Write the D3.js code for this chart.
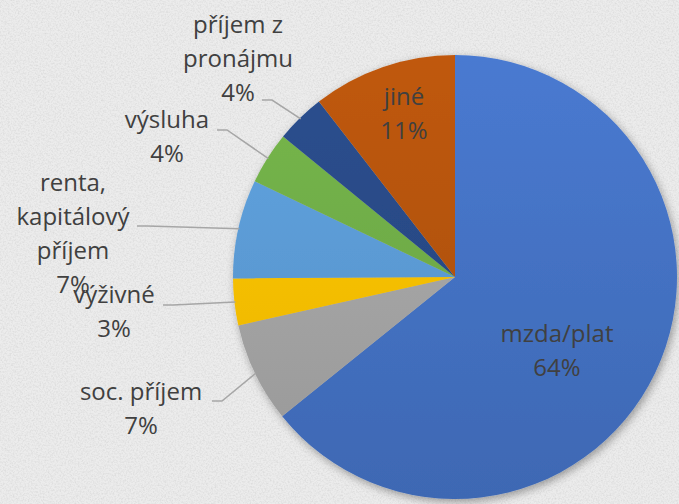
<!DOCTYPE html>
<html>
<head>
<meta charset="utf-8">
<script src="https://cdn.jsdelivr.net/npm/d3@7"></script>
<style>
  html, body { margin: 0; padding: 0; background: #ececec; overflow: hidden; }
</style>
</head>
<body>
<svg id="chart" width="679" height="504"></svg>
<script>
// share of household income (percent)
var categories = ['mzda/plat', 'soc. příjem', 'výživné', 'renta,\nkapitálový\npříjem', 'výsluha', 'příjem z\npronájmu', 'jiné'];
var values = [64.2, 7.3, 3.4, 7.2, 3.8, 3.6, 10.5];
var colors = ['#4472c4', '#a5a5a5', '#ffc000', '#5b9bd5', '#70ad47', '#284a86', '#b4530f'];

// hand placed labels (relative to pie centre), like in the original sheet
var labelLayout = [
  { x: 102, y: 65 },
  { x: -314, y: 123, lead: [-243, 124] },
  { x: -341, y: 26, lead: [-292, 28] },
  { x: -382, y: -86, lead: [-318, -51] },
  { x: -288, y: -149, lead: [-238, -147] },
  { x: -217, y: -244, lead: [-193, -177] },
  { x: -51, y: -172 }
];

var svg = d3.select('#chart');
var width = +svg.attr('width');
var height = +svg.attr('height');
var centerX = 455;
var centerY = 277;
var radius = 222;
var lineHeight = 34;

var data = categories.map(function(c, i) {
  return { name: c, value: values[i], color: colors[i], layout: labelLayout[i] };
});
var total = d3.sum(values);

var defs = svg.append('defs');

var paper = defs.append('filter').attr('id', 'paper')
  .attr('x', 0).attr('y', 0).attr('width', '100%').attr('height', '100%');
paper.append('feTurbulence')
  .attr('type', 'fractalNoise')
  .attr('baseFrequency', 0.6)
  .attr('numOctaves', 3)
  .attr('seed', 7);
paper.append('feColorMatrix')
  .attr('type', 'matrix')
  .attr('values', '0 0 0 0 0.5  0 0 0 0 0.5  0 0 0 0 0.5  1.4 0 0 0 -0.55');

var shadow = defs.append('filter').attr('id', 'shadow')
  .attr('x', '-10%').attr('y', '-10%').attr('width', '125%').attr('height', '125%');
shadow.append('feDropShadow')
  .attr('dx', 2).attr('dy', 3)
  .attr('stdDeviation', 4)
  .attr('flood-color', '#000')
  .attr('flood-opacity', 0.35);

// vertical shading of each slice, as in the office style
data.forEach(function(d, i) {
  var g = defs.append('linearGradient')
    .attr('id', 'grad-' + i)
    .attr('gradientUnits', 'userSpaceOnUse')
    .attr('x1', 0).attr('x2', 0)
    .attr('y1', -radius).attr('y2', radius);
  g.append('stop').attr('offset', 0).attr('stop-color', d3.rgb(d.color).brighter(0.18));
  g.append('stop').attr('offset', 1).attr('stop-color', d3.rgb(d.color).darker(0.25));
});

svg.append('rect')
  .attr('width', width)
  .attr('height', height)
  .style('fill', '#ececec');

svg.append('rect')
  .attr('width', width)
  .attr('height', height)
  .attr('filter', 'url(#paper)')
  .style('opacity', 0.5);

var pie = d3.pie()
  .value(function(d) { return d.value; })
  .sort(null);

var arc = d3.arc().innerRadius(0).outerRadius(radius);
var edge = d3.arc().innerRadius(radius - 1).outerRadius(radius - 1);

var arcs = pie(data);

var chart = svg.append('g')
  .attr('transform', 'translate(' + centerX + ',' + centerY + ')');

chart.append('g')
  .attr('filter', 'url(#shadow)')
  .selectAll('.slice')
  .data(arcs)
  .enter().append('path')
  .attr('class', 'slice')
  .attr('d', arc)
  .style('fill', function(d, i) { return 'url(#grad-' + i + ')'; });

chart.selectAll('.leader')
  .data(arcs.filter(function(d) { return d.data.layout.lead; }))
  .enter().append('path')
  .attr('class', 'leader')
  .attr('d', function(d) {
    var s = d.data.layout.lead;
    var p = edge.centroid(d);
    return d3.line()([s, [s[0] + 10, s[1]], p]);
  })
  .style('fill', 'none')
  .style('stroke', '#a6a6a6')
  .style('stroke-width', 1.5);

var labels = chart.selectAll('.label')
  .data(arcs)
  .enter().append('text')
  .attr('class', 'label')
  .style('font-family', '"Open Sans", sans-serif')
  .style('font-size', '24px')
  .style('fill', '#404040')
  .style('text-anchor', 'middle');

labels.each(function(d) {
  var lines = d.data.name.split('\n');
  lines.push(Math.round(d.data.value / total * 100) + '%');
  var t = d3.select(this);
  lines.forEach(function(line, j) {
    t.append('tspan')
      .attr('x', d.data.layout.x)
      .attr('y', d.data.layout.y + j * lineHeight)
      .text(line);
  });
});
</script>
</body>
</html>
